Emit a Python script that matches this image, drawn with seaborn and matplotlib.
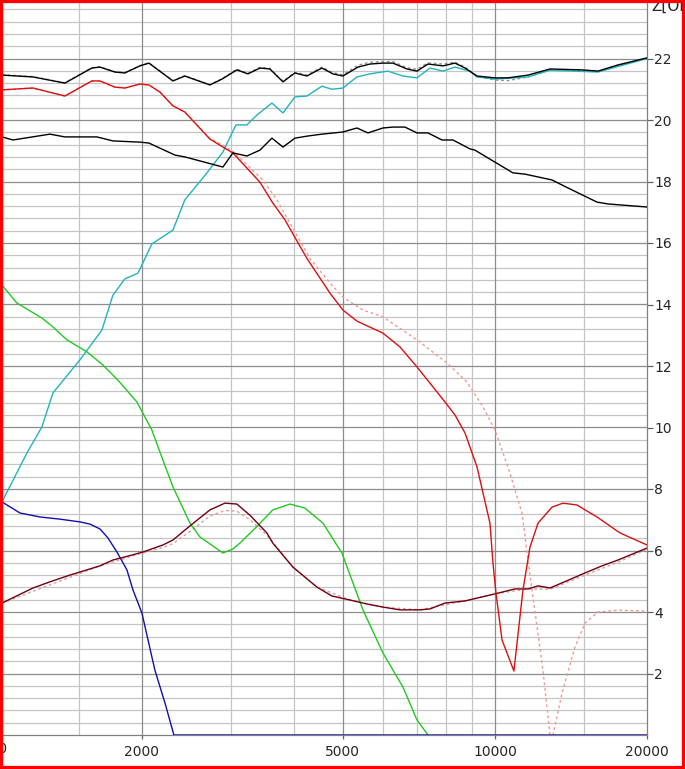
import numpy as np
import pandas as pd
import seaborn as sns
import matplotlib.pyplot as plt
from matplotlib.patches import Rectangle
from matplotlib.ticker import FixedLocator, NullFormatter
import matplotlib.transforms as mtransforms

sns.set_style("white")
plt.rcParams['font.family'] = ['DejaVu Sans']

# total spl (black, top)
top_f = [1057, 1217, 1408, 1592, 1652, 1768, 1850, 1982, 2065, 2304, 2432, 2727, 2881, 3084, 3243, 3425,
         3584, 3805, 4018, 4243, 4544, 4778, 5000, 5355, 5657, 6000, 6281, 6694, 7008, 7370, 7890, 8334,
         8725, 9214, 10000, 10611, 11626, 12857, 14868, 15996, 17521, 20000]
top_v = [21.46, 21.40, 21.20, 21.69, 21.72, 21.56, 21.53, 21.76, 21.85, 21.27, 21.43, 21.14, 21.33, 21.63, 21.50, 21.69,
         21.66, 21.24, 21.53, 21.43, 21.69, 21.50, 21.43, 21.72, 21.82, 21.85, 21.85, 21.66, 21.59, 21.82, 21.76, 21.85,
         21.69, 21.43, 21.37, 21.37, 21.46, 21.66, 21.63, 21.59, 21.79, 22.02]

# total spl, dashed gray
topd_f = [1057, 1217, 1408, 1592, 1652, 1768, 1850, 1982, 2065, 2304, 2432, 2727, 2881, 3084, 3243, 3425,
          3584, 3805, 4018, 4243, 4544, 4778, 5000, 5355, 5657, 6000, 6281, 6694, 7008, 7370, 7890, 8334,
          8725, 9214, 10000, 10611, 11626, 12857, 14868, 15996, 17521, 20000]
topd_v = [21.47, 21.41, 21.21, 21.70, 21.73, 21.57, 21.54, 21.77, 21.86, 21.28, 21.44, 21.15, 21.34, 21.65, 21.52, 21.71,
          21.68, 21.26, 21.55, 21.46, 21.72, 21.54, 21.47, 21.78, 21.88, 21.90, 21.90, 21.70, 21.65, 21.86, 21.82, 21.88,
          21.72, 21.42, 21.30, 21.28, 21.40, 21.63, 21.61, 21.58, 21.78, 22.01]

# second black curve
blk_f = [1057, 1111, 1315, 1408, 1629, 1752, 1982, 2065, 2325, 2432, 2894, 3028, 3228, 3425, 3618, 3805,
         4018, 4264, 4544, 5000, 5330, 5606, 6000, 6281, 6634, 7008, 7370, 7853, 8258, 8924, 9128, 10000,
         10856, 11468, 12970, 13950, 15924, 16744, 20000]
blk_v = [19.45, 19.35, 19.54, 19.45, 19.45, 19.32, 19.28, 19.25, 18.86, 18.80, 18.47, 18.93, 18.83, 19.02, 19.41, 19.12,
         19.41, 19.48, 19.54, 19.61, 19.74, 19.58, 19.74, 19.77, 19.77, 19.58, 19.58, 19.35, 19.35, 19.06, 19.02, 18.63,
         18.28, 18.24, 18.05, 17.79, 17.33, 17.27, 17.17]

# cyan
cyn_f = [1057, 1184, 1268, 1333, 1508, 1667, 1752, 1850, 1964, 2009, 2093, 2304, 2432, 2690, 2894, 3070,
         3228, 3378, 3618, 3805, 4018, 4243, 4544, 4756, 5000, 5330, 5657, 6139, 6574, 7008, 7436, 7890,
         8334, 8924, 9214, 10000, 11626, 12857, 15996, 20000]
cyn_v = [7.58, 9.17, 10.02, 11.12, 12.20, 13.17, 14.30, 14.83, 15.02, 15.35, 15.97, 16.42, 17.40, 18.28, 18.96, 19.84,
         19.84, 20.16, 20.55, 20.23, 20.75, 20.78, 21.10, 21.00, 21.04, 21.40, 21.50, 21.59, 21.43, 21.37, 21.69, 21.59,
         21.72, 21.59, 21.40, 21.33, 21.40, 21.62, 21.56, 22.00]

# red solid
red_f = [1057, 1217, 1408, 1592, 1652, 1768, 1850, 1982, 2065, 2171, 2304, 2432, 2727, 2894, 3028, 3425,
         3633, 3840, 4243, 4714, 5000, 5330, 6000, 6486, 7008, 7540, 7962, 8334, 8725, 9214, 9775, 9910,
         10046, 10328, 10904, 11362, 11732, 12170, 12970, 13636, 14534, 15924, 17686, 20000]
red_v = [20.98, 21.04, 20.78, 21.27, 21.27, 21.07, 21.04, 21.17, 21.14, 20.91, 20.46, 20.26, 19.38, 19.12, 18.93, 17.98,
         17.30, 16.75, 15.50, 14.37, 13.82, 13.46, 13.07, 12.62, 11.97, 11.32, 10.83, 10.41, 9.82, 8.72, 6.89, 5.59,
         4.62, 3.09, 2.08, 4.72, 6.11, 6.89, 7.41, 7.54, 7.48, 7.09, 6.57, 6.18]

# red dashed
redd_f = [1057, 1217, 1408, 1592, 1652, 1768, 1850, 1982, 2065, 2171, 2304, 2432, 2727, 2894, 3028, 3471,
          3702, 4302, 4714, 5000, 5478, 6000, 7008, 8036, 8802, 9470, 10000, 10708, 11310, 11626, 12446, 12857,
          13030, 13580, 14400, 15078, 15996, 17521, 20000]
redd_v = [20.98, 21.04, 20.78, 21.27, 21.27, 21.07, 21.04, 21.17, 21.14, 20.91, 20.46, 20.26, 19.40, 19.18, 18.98, 18.05,
          17.40, 15.50, 14.70, 14.24, 13.82, 13.60, 12.85, 12.10, 11.48, 10.67, 9.92, 8.52, 7.22, 5.69, 2.11, 0.0,
          0.0, 1.37, 2.86, 3.64, 4.00, 4.06, 4.03]

# green
grn_f = [1057, 1131, 1268, 1333, 1421, 1557, 1675, 1793, 1955, 2093, 2201, 2304, 2490, 2606, 2894, 3028,
         3126, 3378, 3633, 3929, 4204, 4566, 4977, 5478, 6000, 6574, 7008, 7370]
grn_v = [14.63, 14.05, 13.56, 13.27, 12.85, 12.46, 12.03, 11.54, 10.83, 9.92, 8.94, 8.07, 6.89, 6.44, 5.92, 6.05,
         6.24, 6.78, 7.32, 7.51, 7.38, 6.89, 5.92, 4.07, 2.67, 1.56, 0.49, 0.0]

# blue
blu_f = [1057, 1147, 1257, 1376, 1508, 1578, 1652, 1713, 1785, 1868, 1920, 2000, 2122, 2222, 2314, 20000]
blu_v = [7.58, 7.22, 7.09, 7.02, 6.93, 6.86, 6.70, 6.41, 5.95, 5.37, 4.72, 3.97, 2.11, 1.04, 0.0, 0.0]

# maroon
mar_f = [1057, 1217, 1315, 1440, 1652, 1752, 1850, 2009, 2201, 2304, 2490, 2727, 2920, 3084, 3272, 3536,
         3633, 3981, 4442, 4756, 5164, 5580, 6000, 6486, 7104, 7436, 7962, 8725, 10000, 10955, 11626, 12170,
         12857, 15078, 16290, 17521, 20000]
mar_v = [4.29, 4.78, 4.98, 5.20, 5.50, 5.69, 5.79, 5.95, 6.18, 6.34, 6.80, 7.32, 7.54, 7.51, 7.15, 6.57,
         6.24, 5.46, 4.81, 4.52, 4.39, 4.26, 4.16, 4.07, 4.07, 4.10, 4.29, 4.36, 4.59, 4.75, 4.75, 4.85,
         4.78, 5.27, 5.50, 5.69, 6.08]

# pink dashed
pnk_f = [1057, 1652, 2009, 2201, 2304, 2490, 2727, 2920, 3084, 3272, 3536, 3981, 4442, 5164, 6000, 7104,
         8725, 10000, 11626, 12857, 15078, 17521, 20000]
pnk_v = [4.29, 5.50, 5.92, 6.10, 6.22, 6.62, 7.12, 7.30, 7.28, 7.00, 6.50, 5.46, 4.81, 4.39, 4.16, 4.07,
         4.36, 4.59, 4.75, 4.74, 5.20, 5.62, 6.04]

x_major = [2000, 5000, 10000, 20000]
x_minor = [1500, 3000, 4000, 6000, 7000, 8000, 9000, 15000]
y_labels = [2, 4, 6, 8, 10, 12, 14, 16, 18, 20, 22]

W, H = 685, 769
fig = plt.figure(figsize=(W / 100, H / 100), dpi=100)
ax = fig.add_axes([2 / W, (H - 735) / H, 645 / W, 735 / H])
ax.set_xscale('log')
ax.set_xlim(1057, 20000)
ax.set_ylim(0, 735 / 30.75)

# grid
for v in np.arange(0.4, 24, 0.4):
    if abs(v / 2 - round(v / 2)) < 1e-6:
        ax.axhline(v, color='#8c8c8c', lw=0.9, zorder=1)
    else:
        ax.axhline(v, color='#c4c4c4', lw=0.9, zorder=0.5)
for v in x_minor:
    ax.axvline(v, color='#c4c4c4', lw=0.9, zorder=0.5)
for v in x_major[:-1]:
    ax.axvline(v, color='#8c8c8c', lw=0.9, zorder=1)

curves = [
    (topd_f, topd_v, '#909090', (2, 2)),
    (redd_f, redd_v, '#f09a90', (2, 2)),
    (pnk_f, pnk_v, '#d8a0a0', (2, 2)),
    (cyn_f, cyn_v, '#20b4c0', None),
    (grn_f, grn_v, '#22c822', None),
    (blu_f, blu_v, '#1010b0', None),
    (mar_f, mar_v, '#700010', None),
    (red_f, red_v, '#dc1010', None),
    (blk_f, blk_v, '#000000', None),
    (top_f, top_v, '#000000', None),
]
for i, (f, v, c, d) in enumerate(curves):
    df = pd.DataFrame({'f': f, 'v': v})
    kw = {} if d is None else {'dashes': d}
    sns.lineplot(data=df, x='f', y='v', ax=ax, color=c, lw=1.0, estimator=None,
                 sort=False, zorder=3 + i, **kw)

ax.set_xlabel('')
ax.set_ylabel('')

ax.xaxis.set_major_locator(FixedLocator(x_major))
ax.xaxis.set_minor_locator(FixedLocator(x_minor))
ax.xaxis.set_minor_formatter(NullFormatter())
ax.set_xticklabels([str(v) for v in x_major])
ax.tick_params(axis='x', which='major', length=3, width=0.9, color='#606060',
               pad=4, labelsize=10, direction='out', bottom=True)
ax.tick_params(axis='x', which='minor', length=0)

ax.yaxis.tick_right()
ax.set_yticks(y_labels)
ax.set_yticklabels([str(v) for v in y_labels])
ax.tick_params(axis='y', length=4, width=0.9, color='#606060', pad=1,
               labelsize=10, direction='out')

for s in ['left', 'top']:
    ax.spines[s].set_visible(False)
ax.spines['right'].set_color('#808080')
ax.spines['bottom'].set_color('#808080')
ax.spines['right'].set_linewidth(0.9)
ax.spines['bottom'].set_linewidth(0.9)

# label of 1000 Hz sits left of the plot, only its tail shows
trans = mtransforms.blended_transform_factory(ax.transData, ax.transAxes)
ax.text(1000, -7 / 735, '1000', transform=trans, ha='center', va='top',
        fontsize=10, clip_on=False)

fig.text(651 / W, 1 - 11 / H, 'Z[Ohm]', ha='left', va='baseline', fontsize=11)

fig.patches.append(Rectangle((0, 0), 1, 1, transform=fig.transFigure, fill=False,
                             edgecolor='#ff0000', lw=4.5, zorder=100))

fig.savefig('out.png', dpi=100)
